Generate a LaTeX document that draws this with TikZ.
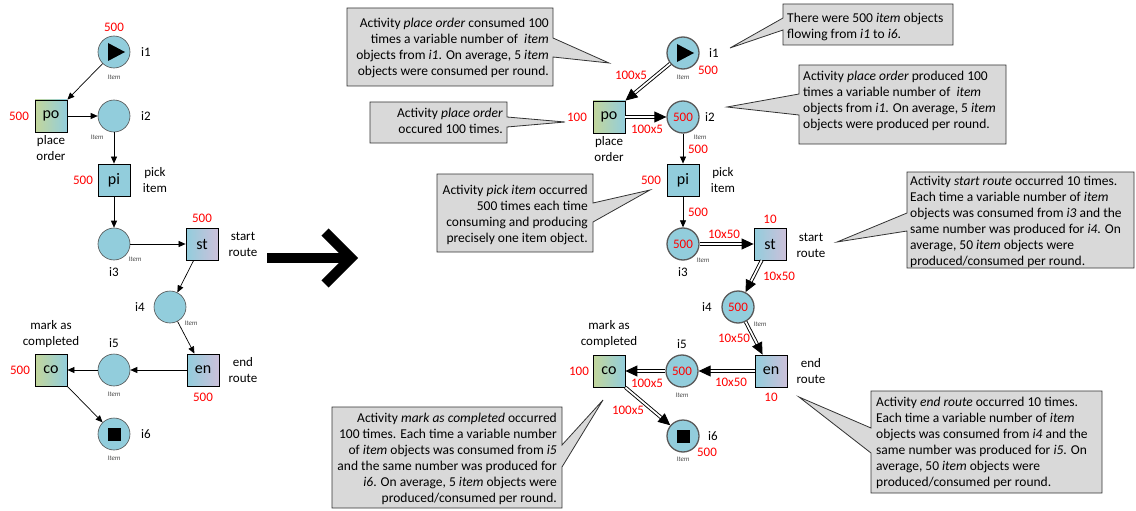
\documentclass[tikz,border=0pt]{standalone}
\usepackage{fontspec}
\setmainfont{Carlito}
\usetikzlibrary{arrows.meta}
\definecolor{pblue}{RGB}{146,205,220}
\definecolor{pgreen}{RGB}{195,214,155}
\definecolor{plav}{RGB}{204,192,218}
\definecolor{cgray}{RGB}{217,217,217}
\definecolor{pborder}{RGB}{80,80,80}
\begin{document}
\begin{tikzpicture}[x=1pt,y=-1pt,
  place/.style={circle,minimum size=32pt,inner sep=0pt,fill=pblue,draw=pborder,line width=0.6pt,text=red,font=\fontsize{13}{13}\selectfont},
  rplace/.style={place,line width=1.3pt,draw=black!65},
  trans/.style={rectangle,minimum size=32pt,inner sep=0pt,draw=black,line width=0.8pt,font=\fontsize{16}{16}\selectfont},
  tgreen/.style={trans,left color=pgreen,right color=pblue},
  tlav/.style={trans,left color=pblue,right color=plav},
  tblue/.style={trans,fill=pblue},
  num/.style={text=red,font=\fontsize{13}{13}\selectfont,inner sep=0pt},
  lbl/.style={font=\fontsize{13}{16}\selectfont,align=center,inner sep=0pt},
  itm/.style={font=\fontsize{7}{7}\selectfont\itshape,text=black!70,inner sep=0pt},
  arr/.style={-{Triangle[length=7pt,width=6pt]},line width=0.7pt},
  darr/.style={-{Triangle[length=12pt,width=11pt]},double,double distance=1.8pt,line width=0.9pt},
  callout/.style={fill=cgray,draw=black!80,line width=0.8pt},
  ctext/.style={font=\fontsize{13.5}{16}\selectfont,inner sep=0pt},
  bigarrow/.style={line width=10pt,draw=black}
]
\useasboundingbox (0,0) rectangle (1136,511);

% ---------------- left net ----------------
\node[place] (a1) at (114,52) {};
\node[tgreen] (apo) at (51,116) {po};
\node[place] (a2) at (114,116) {};
\node[tblue] (api) at (114,180) {pi};
\node[place] (a3) at (114,244) {};
\node[tlav] (ast) at (202,244) {st};
\node[place] (a4) at (170,307) {};
\node[tlav] (aen) at (203,370) {en};
\node[place] (a5) at (114,370) {};
\node[tgreen] (aco) at (51,370) {co};
\node[place] (a6) at (114,434) {};

\fill (a1.center) ++(-6,-9) -- ++(0,18) -- ++(17,-9) -- cycle;
\fill (a6.center) ++(-6.5,-6.5) rectangle ++(13,13);

\draw[arr] (a1) -- (apo.north east);
\draw[arr] (apo) -- (a2);
\draw[arr] (a2) -- (api);
\draw[arr] (api) -- (a3);
\draw[arr] (a3) -- (ast);
\draw[arr] (ast) -- (a4);
\draw[arr] (a4) -- (aen);
\draw[arr] (aen) -- (a5);
\draw[arr] (a5) -- (aco);
\draw[arr] (aco.south east) -- (a6);

\node[num] (an1) at (114,27) {500};
\node[num] (an2) at (19,116) {500};
\node[num] (an3) at (83,180) {500};
\node[num] (an4) at (202,218) {500};
\node[num] (an5) at (203,397) {500};
\node[num] (an6) at (20,370) {500};

\node[lbl] (al1) at (146,52) {i1};
\node[lbl] (al2) at (146,116) {i2};
\node[lbl] (alpo) at (51,148) {place\\order};
\node[lbl] (alpi) at (155,180) {pick\\item};
\node[lbl] (al3) at (114,272) {i3};
\node[lbl] (alst) at (243,244) {start\\route};
\node[lbl] (al4) at (140,307) {i4};
\node[lbl] (alen) at (243,370) {end\\route};
\node[lbl] (al5) at (114,343) {i5};
\node[lbl] (alco) at (51,334) {mark as\\completed};
\node[lbl] (al6) at (146,434) {i6};

\node[itm] (ai1) at (114,77) {Item};
\node[itm] (ai2) at (97,137) {Item};
\node[itm] (ai3) at (135,259) {Item};
\node[itm] (ai4) at (191,323) {Item};
\node[itm] (ai5) at (114,394) {Item};
\node[itm] (ai6) at (114,458) {Item};

% ---------------- big arrow ----------------
\draw[bigarrow] (267,258) -- (349,258);
\draw[bigarrow,miter limit=10] (325,232) -- (351,258) -- (325,284);

% ---------------- right net ----------------
\node[rplace] (b1) at (683,53) {};
\node[tgreen] (bpo) at (609,117) {po};
\node[rplace] (b2) at (683,117) {500};
\node[tblue] (bpi) at (683,180) {pi};
\node[rplace] (b3) at (683,244) {500};
\node[tlav] (bst) at (770,244) {st};
\node[rplace] (b4) at (738,307) {500};
\node[tlav] (ben) at (771,371) {en};
\node[rplace] (b5) at (682,371) {500};
\node[tgreen] (bco) at (609,371) {co};
\node[rplace] (b6) at (683,436) {};

\fill (b1.center) ++(-6,-9) -- ++(0,18) -- ++(17,-9) -- cycle;
\fill (b6.center) ++(-6.5,-6.5) rectangle ++(13,13);

\draw[darr] (b1) -- (bpo.north east);
\draw[darr] (bpo) -- (b2);
\draw[arr] (b2) -- (bpi);
\draw[arr] (bpi) -- (b3);
\draw[darr] (b3) -- (bst);
\draw[darr] (bst) -- (b4);
\draw[darr] (b4) -- (ben);
\draw[darr] (ben) -- (b5);
\draw[darr] (b5) -- (bco);
\draw[darr] (bco.south east) -- (b6);

\node[num] (bn1) at (708,70) {500};
\node[num] (bn2) at (577,117) {100};
\node[num] (bn3) at (631,75) {100x5};
\node[num] (bn4) at (647,129) {100x5};
\node[num] (bn5) at (698,149) {500};
\node[num] (bn6) at (651,180) {500};
\node[num] (bn7) at (698,212) {500};
\node[num] (bn8) at (724,234) {10x50};
\node[num] (bn9) at (770,219) {10};
\node[num] (bn10) at (779,276) {10x50};
\node[num] (bn11) at (734,338) {10x50};
\node[num] (bn12) at (771,397) {10};
\node[num] (bn13) at (731,382) {10x50};
\node[num] (bn14) at (647,383) {100x5};
\node[num] (bn15) at (579,371) {100};
\node[num] (bn16) at (628,410) {100x5};
\node[num] (bn17) at (707,452) {500};

\node[lbl] (bl1) at (714,53) {i1};
\node[lbl] (bl2) at (710,117) {i2};
\node[lbl] (blpo) at (609,149) {place\\order};
\node[lbl] (blpi) at (723,180) {pick\\item};
\node[lbl] (bl3) at (683,272) {i3};
\node[lbl] (blst) at (811,245) {start\\route};
\node[lbl] (bl4) at (707,307) {i4};
\node[lbl] (blen) at (811,371) {end\\route};
\node[lbl] (bl5) at (682,344) {i5};
\node[lbl] (blco) at (609,334) {mark as\\completed};
\node[lbl] (bl6) at (713,436) {i6};

\node[itm] (bi1) at (683,77) {Item};
\node[itm] (bi2) at (700,137) {Item};
\node[itm] (bi3) at (703,260) {Item};
\node[itm] (bi4) at (760,324) {Item};
\node[itm] (bi5) at (682,395) {Item};
\node[itm] (bi6) at (683,459) {Item};

% ---------------- callouts ----------------
\draw[callout] (347,8) -- (553,8) -- (553,38) -- (609,63) -- (553,57) -- (553,86) -- (347,86) -- cycle;
\node[ctext,align=right,anchor=north east] (c1) at (549,18) {Activity \textit{place order} consumed 100\\times a variable number of \ \textit{item}\\objects from \textit{i1}. On average, 5 \textit{item}\\objects were consumed per round.};

\draw[callout] (370,102) -- (507,102) -- (507,117) -- (565,122) -- (507,127) -- (507,143) -- (370,143) -- cycle;
\node[ctext,align=right,anchor=north east] (c2) at (503,108) {Activity \textit{place order}\\occured 100 times.};

\draw[callout] (783,4) -- (953,4) -- (953,45) -- (783,45) -- (783,30) -- (730,48) -- (783,18) -- cycle;
\node[ctext,align=left,anchor=north west] (c3) at (787,13) {There were 500 \textit{item} objects\\flowing from \textit{i1} to \textit{i6}.};

\draw[callout] (799,65) -- (1006,65) -- (1006,144) -- (799,144) -- (799,115) -- (727,107) -- (799,94) -- cycle;
\node[ctext,align=left,anchor=north west] (c4) at (803,71) {Activity \textit{place order} produced 100\\times a variable number of \ \textit{item}\\objects from \textit{i1}. On average, 5 \textit{item}\\objects were produced per round.};

\draw[callout] (437,174) -- (593,174) -- (593,203) -- (650,190) -- (593,222) -- (593,252) -- (437,252) -- cycle;
\node[ctext,align=right,anchor=north east] (c5) at (588,185) {Activity \textit{pick item} occurred\\500 times each time\\consuming and producing\\precisely one item object.};

\draw[callout] (907,172) -- (1134,172) -- (1134,268) -- (907,268) -- (907,231) -- (837,242) -- (907,213) -- cycle;
\node[ctext,align=left,anchor=north west] (c6) at (910,176) {Activity \textit{start route} occurred 10 times.\\Each time a variable number of \textit{item}\\objects was consumed from \textit{i3} and the\\same number was produced for \textit{i4}. On\\average, 50 \textit{item} objects were\\produced/consumed per round.};

\draw[callout] (332,407) -- (562,407) -- (562,445) -- (603,400) -- (562,467) -- (562,508) -- (332,508) -- cycle;
\node[ctext,align=right,anchor=north east] (c7) at (557,413) {Activity \textit{mark as completed} occurred\\100 times. Each time a variable number\\of \textit{item} objects was consumed from \textit{i5}\\and the same number was produced for\\\textit{i6}. On average, 5 \textit{item} objects were\\produced/consumed per round.};

\draw[callout] (871,391) -- (1102,391) -- (1102,493) -- (871,493) -- (871,453) -- (799,397) -- (871,428) -- cycle;
\node[ctext,align=left,anchor=north west] (c8) at (876,397) {Activity \textit{end route} occurred 10 times.\\Each time a variable number of \textit{item}\\objects was consumed from \textit{i4} and the\\same number was produced for \textit{i5}. On\\average, 50 \textit{item} objects were\\produced/consumed per round.};
\end{tikzpicture}
\end{document}
